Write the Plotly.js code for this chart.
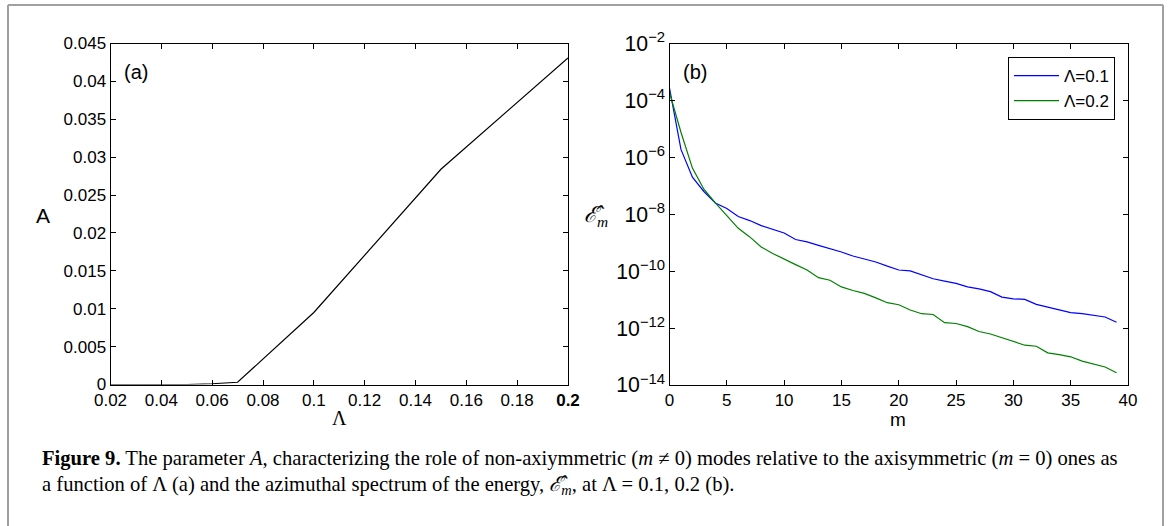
<!DOCTYPE html>
<html>
<head>
<meta charset="utf-8">
<script src="https://cdn.plot.ly/plotly-3.0.1.min.js"></script>
<style>html,body{margin:0;padding:0;background:#fff;}#chart{width:1171px;height:526px;}</style>
</head>
<body>
<div id="chart"></div>
<script>
// Panel (a): parameter A versus Lambda
const lambdaVals = [0.02, 0.03, 0.04, 0.05, 0.06, 0.07, 0.1, 0.15, 0.2];
const aVals = [0, 0, 0, 0, 0.0001, 0.0003, 0.0095, 0.0284, 0.0431];

// Panel (b): azimuthal energy spectrum
const mVals = [0,1,2,3,4,5,6,7,8,9,10,11,12,13,14,15,16,17,18,19,20,21,22,23,24,25,26,27,28,29,30,31,32,33,34,35,36,37,38,39];
const energyL01 = [2.7e-4, 1.9e-6, 2.0e-7, 6.3e-8, 2.5e-8, 1.6e-8, 8.3e-9, 6.0e-9, 4.0e-9, 3.0e-9,
  2.2e-9, 1.3e-9, 1.07e-9, 8.1e-10, 6.3e-10, 4.7e-10, 3.4e-10, 2.7e-10, 2.1e-10, 1.5e-10,
  1.1e-10, 1.02e-10, 7.2e-11, 5.4e-11, 4.5e-11, 3.7e-11, 2.8e-11, 2.4e-11, 1.9e-11, 1.23e-11,
  1.07e-11, 1.02e-11, 6.8e-12, 5.5e-12, 4.3e-12, 3.5e-12, 3.2e-12, 2.75e-12, 2.45e-12, 1.6e-12];
const energyL02 = [1.9e-4, 7.6e-6, 4.2e-7, 7.6e-8, 2.5e-8, 8.9e-9, 3.2e-9, 1.6e-9, 7.1e-10, 4.2e-10,
  2.6e-10, 1.7e-10, 1.1e-10, 5.9e-11, 4.8e-11, 2.8e-11, 2.1e-11, 1.66e-11, 1.15e-11, 7.8e-12,
  6.6e-12, 4.3e-12, 3.2e-12, 3.0e-12, 1.55e-12, 1.45e-12, 1.12e-12, 7.6e-13, 6.2e-13, 4.6e-13,
  3.3e-13, 2.5e-13, 2.3e-13, 1.35e-13, 1.17e-13, 9.8e-14, 6.9e-14, 5.5e-14, 4.3e-14, 2.7e-14];

const seriesNames = ['Λ=0.1', 'Λ=0.2'];
const xTicksA = [0.02, 0.04, 0.06, 0.08, 0.1, 0.12, 0.14, 0.16, 0.18, 0.2];
const xTickTextA = ['0.02', '0.04', '0.06', '0.08', '0.1', '0.12', '0.14', '0.16', '0.18', '<b>0.2</b>'];
const yTicksA = [0, 0.005, 0.01, 0.015, 0.02, 0.025, 0.03, 0.035, 0.04, 0.045];
const yTickTextA = ['0', '0.005', '0.01', '0.015', '0.02', '0.025', '0.03', '0.035', '0.04', '0.045'];

const W = 1171, H = 526;
const px = v => v / W;
const py = v => 1 - v / H;

const SANS = 'Liberation Sans, Arial, sans-serif';
const SERIF = 'Liberation Serif, Times New Roman, serif';

const traces = [
  {x: lambdaVals, y: aVals, type: 'scatter', mode: 'lines', xaxis: 'x', yaxis: 'y',
   line: {color: '#000000', width: 1.2}, showlegend: false},
  {x: mVals, y: energyL01, type: 'scatter', mode: 'lines', xaxis: 'x2', yaxis: 'y2',
   name: seriesNames[0], line: {color: '#0000ff', width: 1.2}},
  {x: mVals, y: energyL02, type: 'scatter', mode: 'lines', xaxis: 'x2', yaxis: 'y2',
   name: seriesNames[1], line: {color: '#008000', width: 1.2}}
];

const axisCommon = {
  showline: true, linecolor: '#000', linewidth: 1, mirror: 'ticks',
  ticks: 'inside', ticklen: 5, tickwidth: 1, tickcolor: '#000',
  showgrid: false, zeroline: false,
  tickfont: {family: SANS, size: 17, color: '#000'}
};

const layout = {
  width: W, height: H,
  margin: {l: 0, r: 0, t: 0, b: 0},
  paper_bgcolor: '#fff', plot_bgcolor: '#fff',
  showlegend: true,
  legend: {
    x: px(1115), y: py(57), xanchor: 'right', yanchor: 'top',
    bordercolor: '#000', borderwidth: 1, bgcolor: '#fff',
    font: {family: SANS, size: 17, color: '#000'},
    itemwidth: 45, tracegroupgap: 0
  },
  xaxis: Object.assign({}, axisCommon, {
    domain: [px(110.5), px(568)], anchor: 'y', range: [0.02, 0.2],
    tickvals: xTicksA, ticktext: xTickTextA
  }),
  yaxis: Object.assign({}, axisCommon, {
    domain: [py(384.5), py(43.5)], anchor: 'x', range: [0, 0.045],
    tickvals: yTicksA, ticktext: yTickTextA
  }),
  xaxis2: Object.assign({}, axisCommon, {
    domain: [px(669.5), px(1128)], anchor: 'y2', range: [0, 40], dtick: 5, tick0: 0
  }),
  yaxis2: Object.assign({}, axisCommon, {
    domain: [py(385), py(43.5)], anchor: 'x2', type: 'log', range: [-14, -2],
    dtick: 2, tick0: 0, exponentformat: 'power'
  }),
  annotations: [
    {text: '(a)', x: px(122), y: py(72), xref: 'paper', yref: 'paper', xanchor: 'left', yanchor: 'middle',
     showarrow: false, font: {family: SANS, size: 20, color: '#000'}},
    {text: '(b)', x: px(681), y: py(72), xref: 'paper', yref: 'paper', xanchor: 'left', yanchor: 'middle',
     showarrow: false, font: {family: SANS, size: 20, color: '#000'}},
    {text: 'A', x: px(43), y: py(216), xref: 'paper', yref: 'paper', xanchor: 'center', yanchor: 'middle',
     showarrow: false, font: {family: SANS, size: 21, color: '#000'}},
    {text: 'Λ', x: px(339), y: py(418), xref: 'paper', yref: 'paper', xanchor: 'center', yanchor: 'middle',
     showarrow: false, font: {family: SERIF, size: 20, color: '#000'}},
    {text: 'm', x: px(898), y: py(419), xref: 'paper', yref: 'paper', xanchor: 'center', yanchor: 'middle',
     showarrow: false, font: {family: SANS, size: 19, color: '#000'}},
    {text: '<i>ℰ̂</i><sub><i>m</i></sub>', x: px(596), y: py(216), xref: 'paper', yref: 'paper', xanchor: 'center', yanchor: 'middle',
     showarrow: false, font: {family: SERIF, size: 22, color: '#000'}},
    {text: '<b>Figure 9.</b> The parameter <i>A</i>, characterizing the role of non-axiymmetric (<i>m</i> ≠ 0) modes relative to the axisymmetric (<i>m</i> = 0) ones as',
     x: px(40), y: py(458), xref: 'paper', yref: 'paper', xanchor: 'left', yanchor: 'middle',
     showarrow: false, align: 'left', font: {family: SERIF, size: 20.6, color: '#000'}},
    {text: 'a function of Λ (a) and the azimuthal spectrum of the energy, <i>ℰ̂<sub>m</sub></i>, at Λ = 0.1, 0.2 (b).',
     x: px(40), y: py(485), xref: 'paper', yref: 'paper', xanchor: 'left', yanchor: 'middle',
     showarrow: false, align: 'left', font: {family: SERIF, size: 20.6, color: '#000'}}
  ],
  shapes: [
    {type: 'line', xref: 'paper', yref: 'paper', x0: px(8), x1: px(8), y0: py(5), y1: -0.02,
     line: {color: '#a0a0a0', width: 2}},
    {type: 'line', xref: 'paper', yref: 'paper', x0: px(8), x1: px(1163), y0: py(5), y1: py(5),
     line: {color: '#a0a0a0', width: 2}},
    {type: 'line', xref: 'paper', yref: 'paper', x0: px(1163), x1: px(1163), y0: py(5), y1: -0.02,
     line: {color: '#a0a0a0', width: 2}}
  ]
};

Plotly.newPlot('chart', traces, layout, {displayModeBar: false, staticPlot: true});
</script>
</body>
</html>
